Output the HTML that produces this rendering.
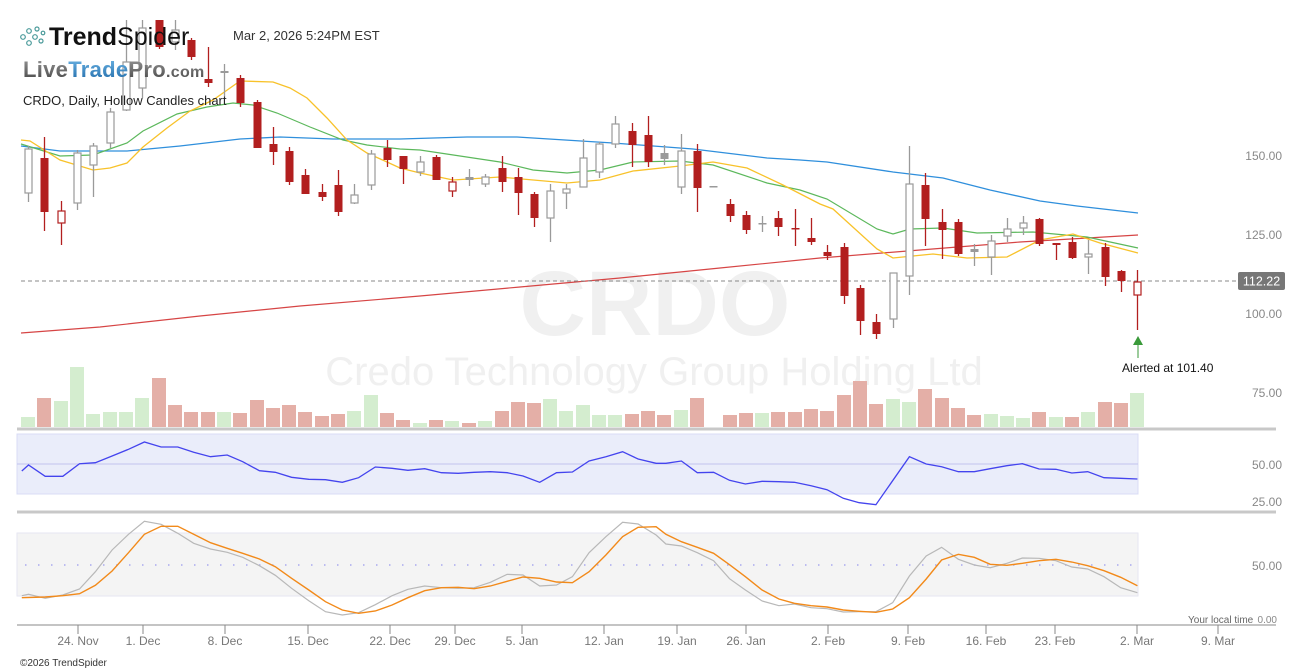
<!DOCTYPE html>
<html><head><meta charset="utf-8">
<style>
html,body{margin:0;padding:0;background:#fff;}
body{width:1307px;height:672px;overflow:hidden;position:relative;font-family:"Liberation Sans","DejaVu Sans",sans-serif;}
svg{position:absolute;left:0;top:0;}
</style></head><body>
<svg id="c" width="1307" height="672" xmlns="http://www.w3.org/2000/svg">
<!-- watermark -->
<text x="655" y="335" text-anchor="middle" font-family="Liberation Sans, sans-serif" font-weight="bold" font-size="92" fill="#f0f0f0">CRDO</text>
<text x="654" y="385" text-anchor="middle" font-family="Liberation Sans, sans-serif" font-size="40" fill="#f0f0f0">Credo Technology Group Holding Ltd</text>
<g id="vol"></g>
<line x1="17" y1="429" x2="1276" y2="429" stroke="#c8c8c8" stroke-width="3"/>
<!-- RSI panel -->
<rect x="17" y="434" width="1121" height="60" fill="#eaedfa" stroke="#d9dcf5"/>
<line x1="17" y1="464" x2="1138" y2="464" stroke="#c3c3ee" stroke-width="1"/>
<polyline id="rsi" fill="none" stroke="#4444ee" stroke-width="1.3"/>
<line x1="17" y1="512" x2="1276" y2="512" stroke="#c8c8c8" stroke-width="3"/>
<!-- Stoch panel -->
<rect x="17" y="533" width="1121" height="63" fill="#f4f4f4" stroke="#e6e6f2"/>
<line x1="25" y1="565" x2="1138" y2="565" stroke="#a8a8ee" stroke-width="1.5" stroke-dasharray="1.5,11.5"/>
<polyline id="stk" fill="none" stroke="#b8b8b8" stroke-width="1.2"/>
<polyline id="std" fill="none" stroke="#f28a1a" stroke-width="1.4"/>
<line x1="17" y1="625" x2="1276" y2="625" stroke="#888" stroke-width="1"/>
<g id="ticks"></g>
<!-- MAs -->
<polyline id="ma200" fill="none" stroke="#d64545" stroke-width="1.2"/>
<polyline id="ma50" fill="none" stroke="#2f8fdc" stroke-width="1.3"/>
<polyline id="ma20" fill="none" stroke="#5cb85c" stroke-width="1.2"/>
<polyline id="ma10" fill="none" stroke="#f8c22a" stroke-width="1.3"/>
<line x1="21" y1="281" x2="1237" y2="281" stroke="#888" stroke-width="1" stroke-dasharray="4,3"/>
<g id="cand"></g>
<!-- alert -->
<line x1="1138" y1="345" x2="1138" y2="358" stroke="#3a9a3a" stroke-width="1"/>
<polygon points="1138,336 1133,345 1143,345" fill="#3a9a3a"/>
<text x="1122" y="372" font-size="12" fill="#111">Alerted at 101.40</text>
<!-- price label -->
<rect x="1238" y="272" width="47" height="18" rx="2" fill="#777"/>
<text x="1261.5" y="285.5" text-anchor="middle" font-size="12.5" fill="#fff">112.22</text>
<g font-size="12" fill="#888" text-anchor="end">
<text x="1282" y="160">150.00</text>
<text x="1282" y="239">125.00</text>
<text x="1282" y="318">100.00</text>
<text x="1282" y="397">75.00</text>
<text x="1282" y="469">50.00</text>
<text x="1282" y="506">25.00</text>
<text x="1282" y="570">50.00</text>
<text x="1277" y="623" font-size="10">0.00</text>
</g>
<text x="1188" y="623" font-size="10" fill="#666">Your local time</text>
<text x="20" y="666" font-size="10" fill="#333">©2026 TrendSpider</text>
<!-- header -->
<g fill="none" stroke="#4a9a9a" stroke-width="1.2">
<circle cx="23" cy="37" r="2.3"/><circle cx="29" cy="31" r="2.3"/><circle cx="29" cy="43" r="2.3"/><circle cx="35" cy="37" r="2.3"/><circle cx="37" cy="29" r="2"/><circle cx="41" cy="41" r="2"/><circle cx="43" cy="33" r="1.8"/>
</g>
<text x="49" y="45" font-size="25" fill="#111"><tspan font-weight="bold">Trend</tspan><tspan font-weight="normal">Spider</tspan></text>
<text x="233" y="40" font-size="13" fill="#333">Mar 2, 2026 5:24PM EST</text>
<defs><linearGradient id="lg" x1="0" y1="0" x2="0" y2="1"><stop offset="0" stop-color="#9a9a9a"/><stop offset="1" stop-color="#444"/></linearGradient>
<linearGradient id="lb" x1="0" y1="0" x2="0" y2="1"><stop offset="0" stop-color="#6fb6e6"/><stop offset="1" stop-color="#1f6aa8"/></linearGradient></defs>
<text x="23" y="77" font-size="22" font-weight="bold" letter-spacing="0.3"><tspan fill="url(#lg)">Live</tspan><tspan fill="url(#lb)">Trade</tspan><tspan fill="url(#lg)">Pro</tspan><tspan fill="url(#lg)" font-size="16">.com</tspan></text>
<text x="23" y="105" font-size="13" fill="#222">CRDO, Daily, Hollow Candles chart</text>
</svg>
<script>
var NS="http://www.w3.org/2000/svg";
function el(p,t,a){var e=document.createElementNS(NS,t);for(var k in a)e.setAttribute(k,a[k]);p.appendChild(e);return e;}
function pts(id,a){document.getElementById(id).setAttribute("points",a.map(function(p){return p[0]+","+p[1]}).join(" "));}
// volume
var V=[[28,417,'g'],[44,398,'r'],[61,401,'g'],[77,367,'g'],[93,414,'g'],[110,412,'g'],[126,412,'g'],[142,398,'g'],[159,378,'r'],[175,405,'r'],[191,412,'r'],[208,412,'r'],[224,412,'g'],[240,413,'r'],[257,400,'r'],[273,408,'r'],[289,405,'r'],[305,412,'r'],[322,416,'r'],[338,414,'r'],[354,411,'g'],[371,395,'g'],[387,413,'r'],[403,420,'r'],[420,423,'g'],[436,420,'r'],[452,421,'g'],[469,423,'r'],[485,421,'g'],[502,411,'r'],[518,402,'r'],[534,403,'r'],[550,399,'g'],[566,411,'g'],[583,405,'g'],[599,415,'g'],[615,415,'g'],[632,414,'r'],[648,411,'r'],[664,415,'r'],[681,410,'g'],[697,398,'r'],[730,415,'r'],[746,413,'r'],[762,413,'g'],[778,412,'r'],[795,412,'r'],[811,409,'r'],[827,411,'r'],[844,395,'r'],[860,381,'r'],[876,404,'r'],[893,399,'g'],[909,402,'g'],[925,389,'r'],[942,398,'r'],[958,408,'r'],[974,415,'r'],[991,414,'g'],[1007,416,'g'],[1023,418,'g'],[1039,412,'r'],[1056,417,'g'],[1072,417,'r'],[1088,412,'g'],[1105,402,'r'],[1121,403,'r'],[1137,393,'g']];
var vg=document.getElementById("vol");
V.forEach(function(v){el(vg,"rect",{x:v[0]-7,y:v[1],width:14,height:427-v[1],fill:v[2]=='g'?'#d4edcf':'#e4afa7'});});
// candles [x,bt,bb,wt,wb,type]
var C=[[28,149,193,146,202,'g'],[44,158,212,137,231,'r'],[61,211,223,201,245,'rh'],[77,153,203,150,210,'g'],[93,146,165,143,197,'g'],[110,112,143,108,148,'g'],[126,62,110,20,111,'g'],[142,28,88,20,98,'g'],[159,20,47,20,49,'r'],[175,30,42,20,50,'g'],[191,40,57,38,60,'r'],[208,79,83,47,87,'r'],[224,71,73,64,98,'gf'],[240,78,103,75,107,'r'],[257,102,148,100,148,'r'],[273,144,152,127,165,'r'],[289,151,182,147,185,'r'],[305,175,194,169,194,'r'],[322,192,197,184,201,'r'],[338,185,212,170,216,'r'],[354,195,203,184,204,'g'],[371,154,185,150,190,'g'],[387,148,160,140,167,'r'],[403,156,169,156,184,'r'],[420,162,172,156,176,'g'],[436,157,180,155,180,'r'],[452,182,191,177,197,'rh'],[469,177,180,169,186,'gf'],[485,177,184,174,187,'g'],[502,168,182,156,192,'r'],[518,177,193,168,215,'r'],[534,194,218,192,227,'r'],[550,191,218,184,242,'g'],[566,189,193,184,209,'g'],[583,158,187,139,187,'g'],[599,144,172,142,178,'g'],[615,124,144,116,148,'g'],[632,131,145,123,167,'r'],[648,135,162,116,167,'r'],[664,153,159,145,165,'gf'],[681,151,187,134,194,'g'],[697,151,188,144,212,'r'],[713,186,187,186,187,'gf'],[730,204,216,199,222,'r'],[746,215,230,211,234,'r'],[762,223,224,216,232,'gf'],[778,218,227,211,236,'r'],[795,228,229,209,246,'r'],[811,238,242,218,245,'r'],[827,252,256,245,260,'r'],[844,247,296,243,304,'r'],[860,288,321,285,335,'r'],[876,322,334,314,339,'r'],[893,273,319,273,328,'g'],[909,184,276,146,295,'g'],[925,185,219,173,246,'r'],[942,222,230,209,259,'r'],[958,222,254,219,256,'r'],[974,249,252,244,266,'gf'],[991,241,257,235,275,'g'],[1007,229,236,218,242,'g'],[1023,223,228,216,235,'g'],[1039,219,244,218,246,'r'],[1056,243,245,243,260,'r'],[1072,242,258,237,259,'r'],[1088,254,257,240,274,'g'],[1105,247,277,243,286,'r'],[1121,271,281,270,292,'r'],[1137,282,295,270,330,'rh']];
var cg=document.getElementById("cand");
C.forEach(function(c){var col=(c[5][0]=='r')?'#b21f1f':'#9a9a9a';var hollow=(c[5]=='g'||c[5]=='rh');
el(cg,"line",{x1:c[0]+0.5,y1:c[3],x2:c[0]+0.5,y2:c[4],stroke:col,"stroke-width":1.3});
var h=Math.max(c[2]-c[1],1.5);
if(hollow)el(cg,"rect",{x:c[0]-3,y:c[1],width:7,height:h,fill:'#fff',stroke:col,"stroke-width":1.2});
else el(cg,"rect",{x:c[0]-3.5,y:c[1],width:8,height:h,fill:col});});
// MAs
pts("ma200",[[21,333],[100,327],[200,316],[300,306],[420,296],[520,287],[620,278],[720,268],[820,258],[920,250],[1020,242],[1138,235]]);
pts("ma50",[[21,146],[60,151],[127,151],[180,146],[240,139],[280,137],[333,139],[400,139],[467,137],[517,137],[613,143],[693,149],[767,158],[800,160],[827,162],[893,172],[943,178],[990,190],[1040,201],[1077,206],[1138,213]]);
pts("ma20",[[21,144],[60,156],[93,155],[127,143],[143,131],[177,114],[207,107],[233,103],[253,105],[277,113],[310,127],[343,140],[367,145],[400,149],[420,150],[500,162],[533,170],[567,173],[600,170],[633,162],[680,161],[713,165],[767,183],[800,190],[827,199],[877,229],[893,234],[910,229],[943,228],[977,233],[1033,232],[1087,237],[1138,248]]);
pts("ma10",[[21,140],[30,141],[60,160],[93,170],[110,168],[127,163],[143,147],[167,128],[190,111],[213,100],[240,81],[273,82],[290,88],[307,98],[327,118],[347,140],[367,153],[387,162],[400,168],[420,173],[453,180],[500,177],[567,183],[600,180],[633,171],[680,166],[713,162],[747,168],[783,185],[820,204],[833,209],[877,249],[893,258],[933,254],[967,258],[1007,257],[1040,240],[1073,234],[1100,243],[1138,253]]);
// RSI
var R5=[[52,153],[68,135],[108,169],[150,169],[190,131],[228,128],[268,108],[307,88],[345,66],[385,81],[425,81],[463,97],[503,110],[543,105],[580,125],[620,152],[658,157],[697,172],[738,178],[778,179],[818,187],[857,173],[897,141],[937,145],[975,151],[1015,146],[1055,158],[1095,160],[1133,157],[1172,155],[1212,158],[1250,168],[1290,187],[1330,158],[1368,156],[1408,123],[1448,110],[1488,95],[1525,117],[1568,130]];
var R6=[[38,130],[75,123],[113,158],[152,157],[190,181],[228,192],[268,184],[308,185],[345,187],[385,197],[423,209],[462,235],[500,248],[540,254],[620,110],[660,132],[697,140],[737,155],[775,155],[813,146],[853,137],[890,131],[930,147],[970,148],[1008,159],[1046,155],[1085,173],[1125,175],[1165,177]];
function cv(a,ox){return a.map(function(p){return[(ox+p[0]/2.39).toFixed(1),(420+p[1]/3).toFixed(1)]});}
pts("rsi",cv(R5,0).concat(cv(R6,650)));
var D5=[[52,533],[108,531],[150,527],[190,521],[228,496],[268,453],[307,398],[345,343],[385,319],[425,319],[463,343],[503,368],[543,385],[580,400],[620,417],[658,440],[697,475],[738,510],[778,545],[818,570],[857,580],[897,573],[937,555],[975,533],[1015,512],[1055,503],[1095,502],[1133,506],[1172,498],[1212,484],[1250,471],[1290,475],[1330,486],[1368,488],[1408,455],[1448,405],[1488,350],[1525,322],[1568,320]];
var D6=[[38,343],[75,365],[113,382],[152,400],[190,434],[228,470],[268,510],[308,537],[345,550],[385,557],[423,561],[462,570],[500,574],[540,577],[580,567],[620,533],[660,477],[697,420],[737,403],[775,412],[813,433],[853,436],[890,430],[930,422],[970,418],[1008,426],[1046,437],[1085,452],[1125,472],[1165,497]];
var K5=[[52,527],[68,523],[108,535],[150,525],[190,507],[228,455],[268,390],[307,343],[345,304],[385,313],[425,340],[463,370],[503,387],[543,397],[580,412],[620,437],[658,466],[697,505],[738,542],[778,575],[818,585],[857,578],[897,554],[937,527],[975,508],[1015,498],[1055,503],[1095,505],[1133,503],[1172,487],[1212,463],[1250,465],[1290,498],[1330,495],[1368,470],[1408,398],[1448,350],[1488,307],[1525,312],[1568,345]];
var K6=[[38,372],[75,378],[113,398],[152,422],[190,476],[228,510],[268,543],[308,557],[345,552],[385,563],[423,566],[462,576],[500,575],[540,575],[580,548],[620,468],[660,408],[697,382],[737,418],[775,435],[813,443],[853,430],[890,414],[930,415],[970,422],[1008,441],[1046,447],[1085,470],[1125,503],[1165,518]];
pts("std",cv(D5,0).concat(cv(D6,650)));
pts("stk",cv(K5,0).concat(cv(K6,650)));
// x-axis
var T=[[78,"24. Nov"],[143,"1. Dec"],[225,"8. Dec"],[308,"15. Dec"],[390,"22. Dec"],[455,"29. Dec"],[522,"5. Jan"],[604,"12. Jan"],[677,"19. Jan"],[746,"26. Jan"],[828,"2. Feb"],[908,"9. Feb"],[986,"16. Feb"],[1055,"23. Feb"],[1137,"2. Mar"],[1218,"9. Mar"]];
var tg=document.getElementById("ticks");
T.forEach(function(t){el(tg,"line",{x1:t[0],y1:625,x2:t[0],y2:634,stroke:"#888"});var tx=el(tg,"text",{x:t[0],y:645,"text-anchor":"middle","font-size":"12",fill:"#777"});tx.textContent=t[1];});
</script>
</body></html>
